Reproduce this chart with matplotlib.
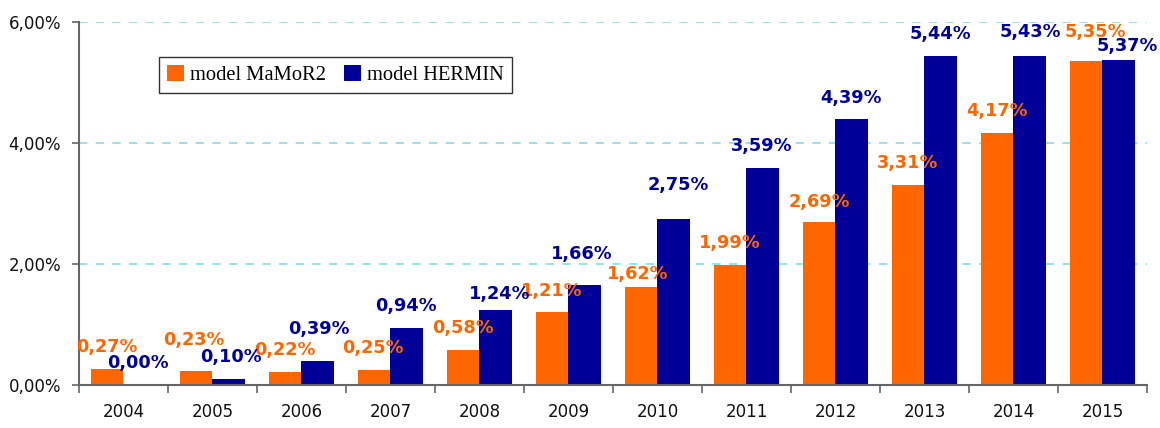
import matplotlib
matplotlib.use("Agg")
import matplotlib.pyplot as plt
from matplotlib.ticker import FixedLocator, NullFormatter

years = ["2004", "2005", "2006", "2007", "2008", "2009", "2010", "2011", "2012", "2013", "2014", "2015"]
mamor2 = [0.27, 0.23, 0.22, 0.25, 0.58, 1.21, 1.62, 1.99, 2.69, 3.31, 4.17, 5.35]
hermin = [0.00, 0.10, 0.39, 0.94, 1.24, 1.66, 2.75, 3.59, 4.39, 5.44, 5.43, 5.37]
series_names = ["model MaMoR2", "model HERMIN"]
yticks = [0, 2, 4, 6]

# label offsets (pixels) relative to bar top centre, mimicking original placement
off_orange = [(0, 22), (-2, 31), (0, 22), (-1, 22), (0, 22), (0, 21), (-3, 13), (0, 22), (0, 20), (0, 22), (0, 22), (9, 29)]
off_blue = [(-2, 22), (2, 22), (1, 32), (-1, 22), (4, 16), (-3, 31), (4, 34), (-1, 22), (-1, 21), (-1, 22), (0, 24), (8, 14)]

ORANGE = "#FF6600"
BLUE = "#000099"

fig = plt.figure(figsize=(11.6, 4.28), dpi=100)
ax = fig.add_axes([79 / 1160, 1 - 385 / 428, (1147 - 79) / 1160, (385 - 22) / 428])

x = list(range(len(years)))
w = 0.37
xo = [i - w / 2 for i in x]
xb = [i + w / 2 for i in x]
b1 = ax.bar(xo, mamor2, width=w, color=ORANGE, label=series_names[0], zorder=3)
b2 = ax.bar(xb, hermin, width=w, color=BLUE, label=series_names[1], zorder=3)

def fmt(v):
    return f"{v:.2f}".replace(".", ",") + "%"

for xi, v, (dx, dy) in zip(xo, mamor2, off_orange):
    ax.annotate(fmt(v), (xi, v), xytext=(dx, dy), textcoords="offset pixels",
                ha="center", va="center", color=ORANGE, fontsize=12.8,
                fontweight="bold", family="DejaVu Sans", zorder=5, annotation_clip=False)
for xi, v, (dx, dy) in zip(xb, hermin, off_blue):
    ax.annotate(fmt(v), (xi, v), xytext=(dx, dy), textcoords="offset pixels",
                ha="center", va="center", color=BLUE, fontsize=12.8,
                fontweight="bold", family="DejaVu Sans", zorder=5, annotation_clip=False)

ax.set_xlim(-0.5, len(years) - 0.5)
ax.set_ylim(0, 6)
ax.set_yticks(yticks)
ax.set_yticklabels([f"{t:.2f}".replace(".", ",") + "%" for t in yticks], fontsize=12, color="#111111")
ax.yaxis.grid(True, linestyle=(0, (5, 5)), color="#80E0E0", linewidth=1.2, zorder=0)
ax.tick_params(axis="y", length=5, color="#666666", width=1.2, pad=8)

ax.xaxis.set_major_locator(FixedLocator([i - 0.5 for i in range(len(years) + 1)]))
ax.xaxis.set_major_formatter(NullFormatter())
ax.xaxis.set_minor_locator(FixedLocator(x))
ax.set_xticklabels(years, minor=True, fontsize=12, color="#111111")
ax.tick_params(axis="x", which="major", length=6, color="#666666", width=1.2)
ax.tick_params(axis="x", which="minor", length=0, pad=13)

for s in ["top", "right"]:
    ax.spines[s].set_visible(False)
for s in ["left", "bottom"]:
    ax.spines[s].set_color("#666666")
    ax.spines[s].set_linewidth(1.5)
    ax.spines[s].set_zorder(4)

leg = fig.legend(handles=[b1, b2], loc="upper left",
                 bbox_to_anchor=(159 / 1160, 1 - 57 / 428), bbox_transform=fig.transFigure,
                 ncol=2, frameon=True, fancybox=False, borderaxespad=0,
                 prop={"family": "Liberation Serif", "size": 14.8},
                 handlelength=0.8, handleheight=0.8, handletextpad=0.3,
                 columnspacing=0.9, borderpad=0.4)
leg.get_frame().set_edgecolor("black")
leg.get_frame().set_linewidth(1.0)

fig.savefig("out.png", dpi=100)
